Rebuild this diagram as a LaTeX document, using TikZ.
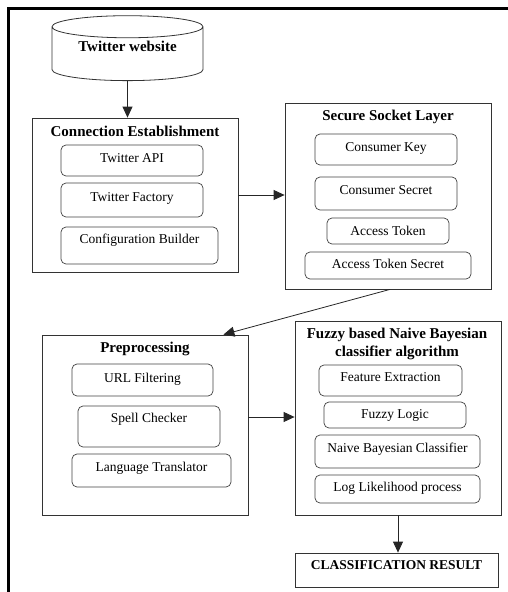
\documentclass[tikz,border=0pt]{standalone}
\usepackage{fontspec}
\setmainfont{Liberation Serif}
\usetikzlibrary{arrows.meta,shapes.geometric}

\begin{document}
\begin{tikzpicture}[x=1pt, y=-1pt, >={Triangle[width=10pt,length=11pt]},
    font=\fontsize{13.5}{16}\selectfont,
    group/.style={draw=black!80, line width=0.8pt, inner sep=0pt},
    title/.style={font=\fontsize{15}{18}\selectfont\bfseries, align=center},
    sub/.style={draw=black!75, line width=0.7pt, rounded corners=5pt,
                inner sep=2pt, text height=9.5pt, text depth=#1},
    sub/.default=4pt,
    flow/.style={->, line width=0.8pt, draw=black!85}]
  \useasboundingbox (0,0) rectangle (508,592);
  % outer frame (cut off at right and bottom)
  \draw[line width=2.2pt] (508,8.5) -- (8.5,8.5) -- (8.5,592);

  % source
  \node[cylinder, shape border rotate=90, aspect=0.21, draw=black!80,
        line width=0.8pt, minimum width=151pt, minimum height=63pt,
        title, text height=10pt, text depth=18pt] (web) at (127.5,55.5) {Twitter website};

  % connection establishment
  \node[group, minimum width=206pt, minimum height=154pt] (ce) at (135,195) {};
  \node[title] (cetitle) at (135,131) {Connection Establishment};
  \node[sub=6.5pt, minimum width=142pt, minimum height=31pt] (api) at (132,160.5) {Twitter API};
  \node[sub=7.5pt, minimum width=142pt, minimum height=34pt] (fact) at (132,200) {Twitter Factory};
  \node[sub=14.5pt, minimum width=157pt, minimum height=37pt] (conf) at (139.5,245.5) {Configuration Builder};

  % secure socket layer
  \node[group, minimum width=206pt, minimum height=186pt] (ssl) at (388,196) {};
  \node[title] (ssltitle) at (388,117) {Secure Socket Layer};
  \node[sub=6.5pt, minimum width=142pt, minimum height=31pt] (ckey) at (386,149.5) {Consumer Key};
  \node[sub=8.5pt, minimum width=142pt, minimum height=33pt] (csec) at (386,193.5) {Consumer Secret};
  \node[sub=1.5pt, minimum width=122pt, minimum height=26pt] (atok) at (388,231) {Access Token};
  \node[sub=4.5pt, minimum width=166pt, minimum height=27pt] (atsec) at (388,265.5) {Access Token Secret};

  % preprocessing
  \node[group, minimum width=206pt, minimum height=180pt] (pre) at (145,425) {};
  \node[title] (pretitle) at (145,349) {Preprocessing};
  \node[sub=5.5pt, minimum width=141pt, minimum height=32pt] (url) at (142.5,380) {URL Filtering};
  \node[sub=18.5pt, minimum width=142pt, minimum height=41pt] (spell) at (149,426.5) {Spell Checker};
  \node[sub=8.5pt, minimum width=159pt, minimum height=33pt] (lang) at (151.5,470.5) {Language Translator};

  % classifier
  \node[group, minimum width=206pt, minimum height=194pt] (fz) at (398,418) {};
  \node[title] (fztitle) at (397,344) {Fuzzy based Naive Bayesian\\classifier algorithm};
  \node[sub=8.5pt, minimum width=143pt, minimum height=31pt] (feat) at (390.5,380.5) {Feature Extraction};
  \node[sub=3.5pt, minimum width=142pt, minimum height=26pt] (fuzzy) at (395,415) {Fuzzy Logic};
  \node[sub=8.5pt, minimum width=165pt, minimum height=33pt] (naive) at (397.5,451.5) {Naive Bayesian Classifier};
  \node[sub=5.5pt, minimum width=165pt, minimum height=28pt] (loglik) at (397.5,489) {Log Likelihood process};

  % result
  \node[group, minimum width=203pt, minimum height=34pt, text height=9.5pt,
        text depth=11.5pt, font=\fontsize{13.5}{16}\selectfont\bfseries] (res) at (396.5,570) {CLASSIFICATION RESULT};

  \draw[flow] (web.south) -- (web.south |- ce.north);
  \draw[flow] (ce.east) -- (ce.east -| ssl.west);
  \draw[flow] ([xshift=2pt]ssl.south) -- ([xshift=-25pt]pre.north east);
  \draw[flow] ([yshift=8pt]pre.east) -- ([yshift=8pt]pre.east -| fz.west);
  \draw[flow] (fz.south) -- (fz.south |- res.north);
\end{tikzpicture}
\end{document}
